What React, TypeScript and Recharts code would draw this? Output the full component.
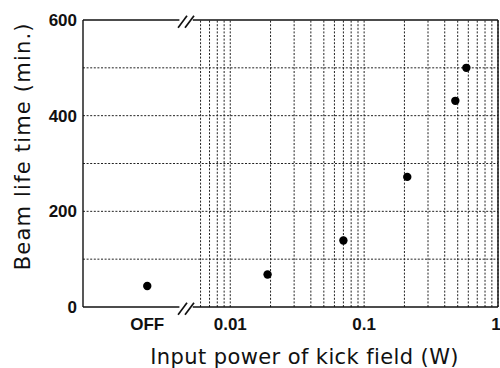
import React from 'react';
import { ScatterChart, Scatter, XAxis, YAxis, ReferenceLine } from 'recharts';

// beam life time vs input power of the kick field
const offLifetime = 44;
const powers = [0.019, 0.07, 0.21, 0.48, 0.58];
const lifetimes = [68, 139, 272, 431, 500];

// x axis is log10(power); the "OFF" point sits left of the axis break
const X_MIN = -3.1;
const X_MAX = 0;
const OFF_POS = -2.62;
const BREAK_L = -2.38;
const BREAK_R = -2.28;

const xTicks = [OFF_POS, -2, -1, 0];
const xTickLabels = ['OFF', '0.01', '0.1', '1'];
const yTicks = [0, 200, 400, 600];
const yGrid = [100, 200, 300, 400, 500];
const gridDecades = [0.001, 0.01, 0.1];
const gridSteps = [1, 2, 3, 4, 5, 6, 7, 8, 9];

const gridPowers = gridDecades
    .flatMap(d => gridSteps.map(s => s * d))
    .filter(v => v > 0.0055)
    .concat([1]);

const offData = [{ x: OFF_POS, y: offLifetime }];
const onData = powers.map((p, i) => ({ x: Math.log10(p), y: lifetimes[i] }));

const FONT = '"Liberation Sans", Arial, sans-serif';
const TITLE_FONT = '"DejaVu Sans", sans-serif';
const GRID = { stroke: '#222', strokeDasharray: '2 1.6', strokeWidth: 1 };
const FRAME = { stroke: '#111', strokeWidth: 1.4 };

const Dot = (p: any) => <circle cx={p.cx} cy={p.cy} r={4.2} fill="#000" />;

const XTick = ({ x, y, payload }: any) => {
    const i = xTicks.indexOf(payload.value);
    return (
        <text x={x} y={y} dy={15} textAnchor="middle" fontSize={17} fontWeight="bold" fontFamily={FONT} fill="#111">
            {xTickLabels[i]}
        </text>
    );
};

const XLabel = ({ viewBox }: any) => (
    <text x={viewBox.x + viewBox.width * 0.534} y={364} textAnchor="middle" fontSize={21} letterSpacing={0.4} fontFamily={TITLE_FONT} fill="#111">
        Input power of kick field (W)
    </text>
);

const YLabel = ({ viewBox }: any) => {
    const cx = 30;
    const cy = viewBox.y + viewBox.height * 0.44;
    return (
        <text x={cx} y={cy} transform={`rotate(-90 ${cx} ${cy})`} textAnchor="middle" fontSize={21} letterSpacing={1.2} fontFamily={TITLE_FONT} fill="#111">
            Beam life time (min.)
        </text>
    );
};

export default function App() {
    return (
        <div style={{ position: 'absolute', left: 0, top: 0, background: '#fff' }}>
            <ScatterChart width={500} height={368} margin={{ top: 20, right: 2, bottom: 31, left: 0 }}>
                <XAxis
                    type="number"
                    dataKey="x"
                    domain={[X_MIN, X_MAX]}
                    ticks={xTicks}
                    allowDataOverflow
                    axisLine={false}
                    tickLine={false}
                    height={30}
                    tick={<XTick />}
                    label={<XLabel />}
                />
                <YAxis
                    type="number"
                    dataKey="y"
                    domain={[0, 600]}
                    ticks={yTicks}
                    width={83}
                    tickLine={false}
                    tickSize={4}
                    tickMargin={2}
                    axisLine={FRAME}
                    tick={{ fontSize: 17, fontWeight: 'bold', fontFamily: FONT, fill: '#111' }}
                    label={<YLabel />}
                />
                {yGrid.map(v => (
                    <ReferenceLine key={'h' + v} y={v} {...GRID} />
                ))}
                {gridPowers.map(v => (
                    <ReferenceLine key={'v' + v} x={Math.log10(v)} {...GRID} />
                ))}
                <ReferenceLine x={X_MAX} {...FRAME} />
                {[0, 600].map(yv => (
                    <React.Fragment key={'frame' + yv}>
                        <ReferenceLine segment={[{ x: X_MIN, y: yv }, { x: BREAK_L, y: yv }]} {...FRAME} ifOverflow="visible" />
                        <ReferenceLine segment={[{ x: BREAK_R, y: yv }, { x: X_MAX, y: yv }]} {...FRAME} ifOverflow="visible" />
                        <ReferenceLine segment={[{ x: -2.39, y: yv - 16 }, { x: -2.323, y: yv + 9 }]} stroke="#111" strokeWidth={1.7} ifOverflow="visible" />
                        <ReferenceLine segment={[{ x: -2.338, y: yv - 16 }, { x: -2.271, y: yv + 9 }]} stroke="#111" strokeWidth={1.7} ifOverflow="visible" />
                    </React.Fragment>
                ))}
                <Scatter data={offData} shape={<Dot />} isAnimationActive={false} />
                <Scatter data={onData} shape={<Dot />} isAnimationActive={false} />
            </ScatterChart>
        </div>
    );
}
